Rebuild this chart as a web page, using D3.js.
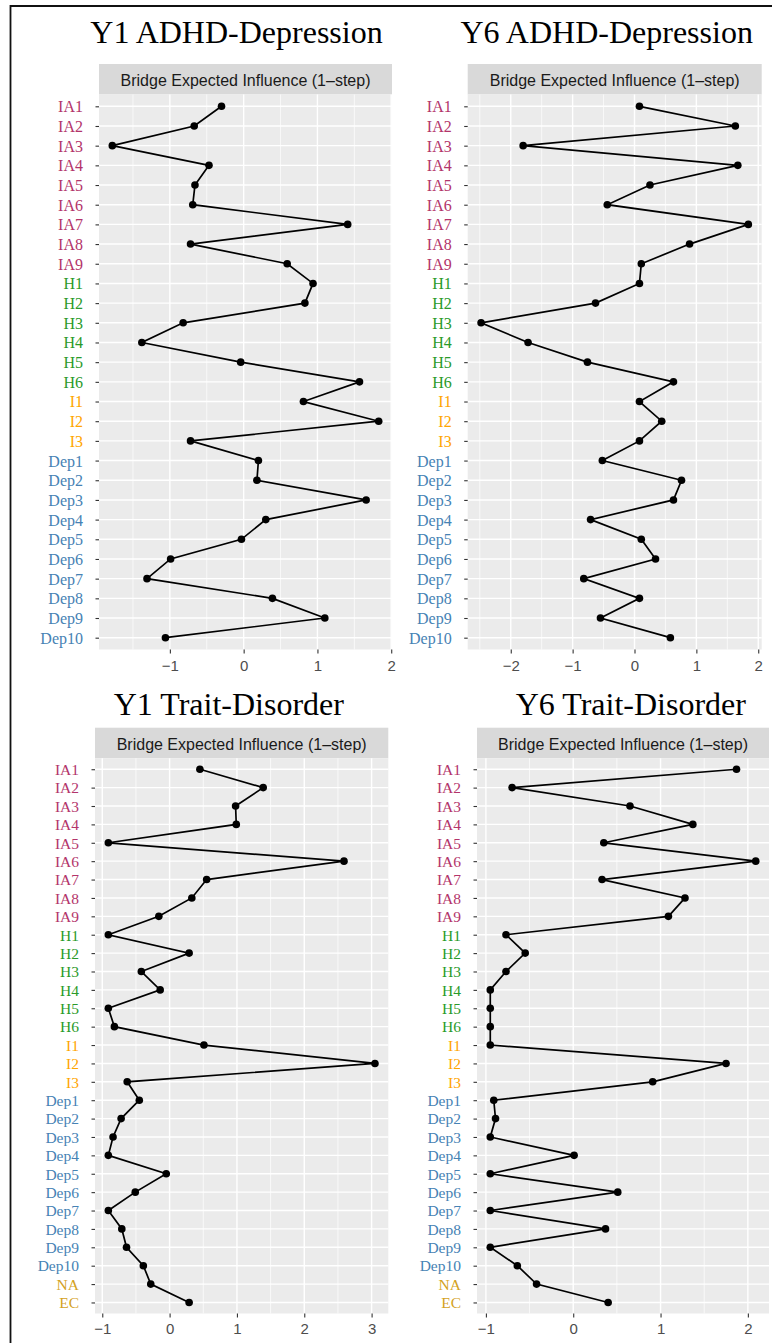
<!DOCTYPE html>
<html>
<head>
<meta charset="utf-8">
<script src="https://cdn.jsdelivr.net/npm/d3@7"></script>
<style>
  body { margin: 0; background: #fff; }
  svg { display: block; }
</style>
</head>
<body>
<div id="chart"></div>
<script>
// node labels (top to bottom)
var itemsAD = ["IA1","IA2","IA3","IA4","IA5","IA6","IA7","IA8","IA9",
               "H1","H2","H3","H4","H5","H6",
               "I1","I2","I3",
               "Dep1","Dep2","Dep3","Dep4","Dep5","Dep6","Dep7","Dep8","Dep9","Dep10"];
var itemsTD = itemsAD.concat(["NA","EC"]);

// bridge expected influence (1-step)
var y1AdhdDep = [-0.30,-0.67,-1.78,-0.47,-0.66,-0.69,1.41,-0.72,0.59,
                 0.94,0.83,-0.82,-1.38,-0.04,1.57,
                 0.81,1.83,-0.72,
                 0.20,0.18,1.66,0.30,-0.03,-0.99,-1.31,0.39,1.10,-1.06];
var y6AdhdDep = [0.08,1.63,-1.80,1.67,0.25,-0.44,1.84,0.89,0.11,
                 0.08,-0.63,-2.48,-1.72,-0.76,0.63,
                 0.08,0.44,0.08,
                 -0.52,0.76,0.63,-0.71,0.11,0.34,-0.82,0.08,-0.55,0.58];
var y1TraitDis = [0.45,1.39,0.98,0.99,-0.91,2.59,0.55,0.33,-0.16,
                  -0.91,0.29,-0.42,-0.14,-0.91,-0.82,
                  0.51,3.05,-0.63,
                  -0.45,-0.72,-0.84,-0.91,-0.05,-0.51,-0.91,-0.71,-0.64,-0.39,
                  -0.28,0.29];
var y6TraitDis = [1.87,-0.70,0.65,1.37,0.35,2.09,0.33,1.28,1.09,
                  -0.77,-0.55,-0.77,-0.95,-0.95,-0.95,
                  -0.95,1.75,0.91,
                  -0.91,-0.89,-0.95,0.01,-0.95,0.51,-0.95,0.37,-0.95,-0.64,
                  -0.42,0.40];

var ticksY1AD = [-1,0,1,2];
var ticksY6AD = [-2,-1,0,1,2];
var ticksY1TD = [-1,0,1,2,3];
var ticksY6TD = [-1,0,1,2];

var stripLabel = "Bridge Expected Influence (1\u2013step)";

var groupColor = function(lbl) {
  if (lbl.indexOf("IA") == 0) return "#B3346A";
  if (lbl.indexOf("Dep") == 0) return "#4682B4";
  if (lbl[0] == "H") return "#2A9A2A";
  if (lbl[0] == "I") return "#FFA500";
  return "#D4A21E";
};

var panels = [
  {title:"Y1 ADHD-Depression", items:itemsAD, values:y1AdhdDep, ticks:ticksY1AD,
   left:99, right:392, top:64, bottom:649.5, titleX:236.5, titleY:43, labelSize:16, tickOff:21.5},
  {title:"Y6 ADHD-Depression", items:itemsAD, values:y6AdhdDep, ticks:ticksY6AD,
   left:467.7, right:761.7, top:64, bottom:649.5, titleX:606.7, titleY:43, labelSize:16, tickOff:21.5},
  {title:"Y1 Trait-Disorder", items:itemsTD, values:y1TraitDis, ticks:ticksY1TD,
   left:95, right:388.3, top:727.7, bottom:1313.5, titleX:228.8, titleY:715, labelSize:15.5, tickOff:20},
  {title:"Y6 Trait-Disorder", items:itemsTD, values:y6TraitDis, ticks:ticksY6TD,
   left:477, right:769, top:727.7, bottom:1313.5, titleX:630.8, titleY:715, labelSize:15.5, tickOff:20}
];

var W = 772, H = 1343;
var svg = d3.select("#chart").append("svg").attr("width", W).attr("height", H);

// frame lines of the original figure
svg.append("path")
  .attr("d", "M10.5," + H + "L10.5,6L" + W + ",6")
  .attr("fill", "none").attr("stroke", "#111").attr("stroke-width", 1.8);

var sans = "'Liberation Sans', Arial, Helvetica, sans-serif";
var serif = "'Liberation Serif', 'Times New Roman', Times, serif";
var fmt = d3.format("~g");

panels.forEach(drawPanel);

function drawPanel(p) {
  var stripH = 30.5;
  var pTop = p.top + stripH;
  var g = svg.append("g");

  var lo = d3.min(p.values), hi = d3.max(p.values), pad = (hi - lo) * 0.05;
  var x = d3.scaleLinear().domain([lo - pad, hi + pad]).range([p.left, p.right]);
  var y = d3.scalePoint().domain(p.items).range([pTop, p.bottom]).padding(0.6);

  // title
  g.append("text")
    .attr("x", p.titleX).attr("y", p.titleY)
    .attr("text-anchor", "middle")
    .style("font-family", serif).style("font-size", "32px").attr("fill", "#000")
    .text(p.title);

  // strip
  g.append("rect")
    .attr("x", p.left).attr("y", p.top)
    .attr("width", p.right - p.left).attr("height", stripH)
    .attr("fill", "#D9D9D9");
  g.append("text")
    .attr("x", (p.left + p.right) / 2).attr("y", p.top + 21.8)
    .attr("text-anchor", "middle")
    .style("font-family", sans).style("font-size", "16px").attr("fill", "#1A1A1A")
    .text(stripLabel);

  // panel background
  g.append("rect")
    .attr("x", p.left).attr("y", pTop)
    .attr("width", p.right - p.left).attr("height", p.bottom - pTop)
    .attr("fill", "#EBEBEB");

  // minor grid
  var step = p.ticks[1] - p.ticks[0];
  var minor = [p.ticks[0] - step / 2].concat(p.ticks.map(function(t){ return t + step / 2; }))
    .filter(function(v){ return v > x.domain()[0] && v < x.domain()[1]; });
  g.selectAll(".minor").data(minor).enter().append("line")
    .attr("x1", function(d){ return x(d); }).attr("x2", function(d){ return x(d); })
    .attr("y1", pTop).attr("y2", p.bottom)
    .attr("stroke", "#fff").attr("stroke-width", 0.7);

  // major grid
  g.selectAll(".vmaj").data(p.ticks).enter().append("line")
    .attr("x1", function(d){ return x(d); }).attr("x2", function(d){ return x(d); })
    .attr("y1", pTop).attr("y2", p.bottom)
    .attr("stroke", "#fff").attr("stroke-width", 1.4);
  g.selectAll(".hmaj").data(p.items).enter().append("line")
    .attr("x1", p.left).attr("x2", p.right)
    .attr("y1", function(d){ return y(d); }).attr("y2", function(d){ return y(d); })
    .attr("stroke", "#fff").attr("stroke-width", 1.4);

  // axes
  var xa = g.append("g")
    .attr("transform", "translate(0," + p.bottom + ")")
    .call(d3.axisBottom(x).tickValues(p.ticks).tickFormat(fmt).tickSize(4).tickPadding(4));
  xa.select(".domain").remove();
  xa.selectAll("line").attr("stroke", "#333").attr("stroke-width", 1.1);
  xa.selectAll("text")
    .attr("y", p.tickOff).attr("dy", null)
    .style("font-family", sans).style("font-size", "15px").attr("fill", "#4D4D4D");

  var ya = g.append("g")
    .attr("transform", "translate(" + p.left + ",0)")
    .call(d3.axisLeft(y).tickSize(3.5).tickPadding(12.5));
  ya.select(".domain").remove();
  ya.selectAll("line").attr("stroke", "#333").attr("stroke-width", 1.1);
  ya.selectAll("text")
    .attr("dy", "0.34em")
    .style("font-family", serif).style("font-size", p.labelSize + "px")
    .attr("fill", function(d){ return groupColor(d); });

  // line + points
  var pts = p.items.map(function(it, i){ return {item: it, value: p.values[i]}; });
  var line = d3.line()
    .x(function(d){ return x(d.value); })
    .y(function(d){ return y(d.item); });
  g.append("path").datum(pts)
    .attr("d", line)
    .attr("fill", "none").attr("stroke", "#000").attr("stroke-width", 1.7);
  g.selectAll(".pt").data(pts).enter().append("circle")
    .attr("cx", function(d){ return x(d.value); })
    .attr("cy", function(d){ return y(d.item); })
    .attr("r", 3.8)
    .attr("fill", "#000");
}
</script>
</body>
</html>
